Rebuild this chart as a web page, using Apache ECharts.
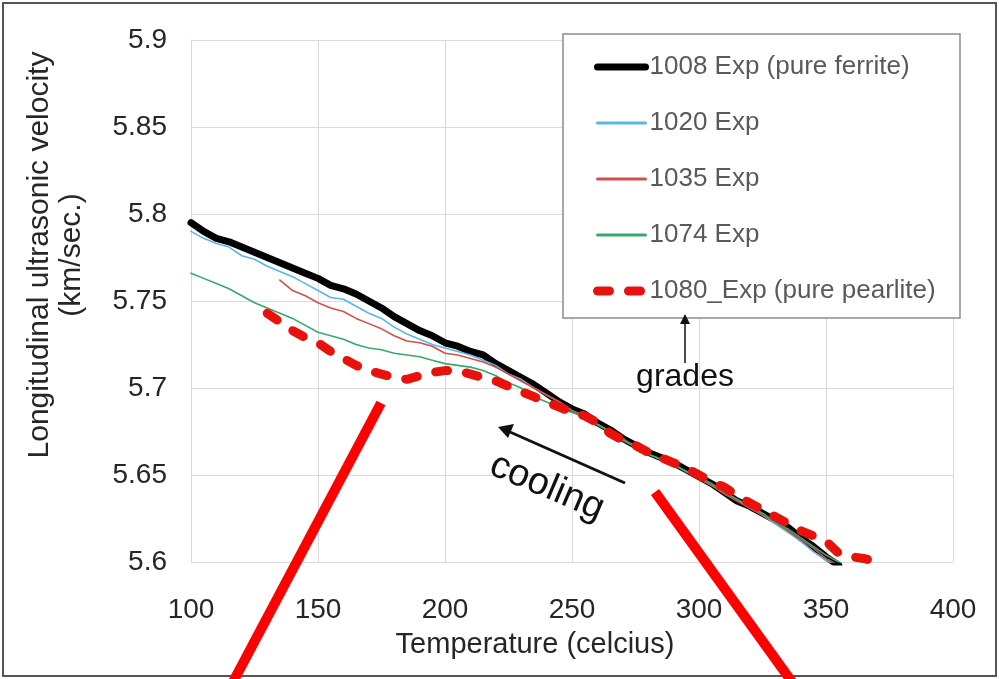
<!DOCTYPE html>
<html>
<head>
<meta charset="utf-8">
<script src="https://cdn.jsdelivr.net/npm/echarts@6/dist/echarts.min.js"></script>
<style>
  html, body { margin: 0; padding: 0; background: #fff; }
  #main { width: 999px; height: 679px; }
</style>
</head>
<body>
<div id="main"></div>
<script>
// temperature (celcius), 5 degree steps
var temps = [100,105,110,115,120,125,130,135,140,145,150,155,160,165,170,175,180,185,190,195,
             200,205,210,215,220,225,230,235,240,245,250,255,260,265,270,275,280,285,290,295,
             300,305,310,315,320,325,330,335,340,345,350,355,360,365,370];

// longitudinal ultrasonic velocity (km/sec.)
var v1008 = [5.795,5.790,5.786,5.784,5.781,5.778,5.775,5.772,5.769,5.766,5.763,5.759,5.757,5.754,5.750,5.746,5.741,5.737,5.733,5.730,
             5.726,5.724,5.721,5.719,5.714,5.710,5.706,5.702,5.697,5.692,5.688,5.685,5.680,5.676,5.671,5.667,5.663,5.660,5.657,5.653,
             5.649,5.645,5.640,5.635,5.632,5.628,5.624,5.620,5.614,5.609,5.603,5.598,null,null,null];
var v1020 = [5.790,5.786,5.783,5.781,5.776,5.774,5.770,5.767,5.764,5.760,5.756,5.752,5.751,5.747,5.743,5.740,5.735,5.731,5.728,5.725,
             5.723,5.721,5.719,5.716,5.713,5.708,5.705,5.700,5.696,5.692,5.687,5.684,5.679,5.675,5.670,5.667,5.662,5.659,5.656,5.652,
             5.648,5.644,5.640,5.636,5.631,5.627,5.622,5.617,5.612,5.606,5.601,5.597,null,null,null];
var v1035 = [null,null,null,null,null,null,null,5.762,5.756,5.753,5.749,5.746,5.744,5.740,5.737,5.734,5.730,5.727,5.726,5.724,
             5.720,5.719,5.717,5.715,5.712,5.708,5.704,5.700,5.696,5.692,5.687,5.684,5.679,5.675,5.671,5.666,5.662,5.659,5.656,5.652,
             5.648,5.644,5.639,5.635,5.631,5.627,5.623,5.618,5.613,5.608,5.602,5.598,null,null,null];
var v1074 = [5.766,5.763,5.760,5.757,5.753,5.749,5.746,5.743,5.740,5.736,5.732,5.730,5.728,5.725,5.723,5.722,5.720,5.719,5.718,5.716,
             5.714,5.713,5.712,5.710,5.707,5.703,5.700,5.695,5.692,5.688,5.686,5.683,5.679,5.675,5.670,5.666,5.662,5.659,5.656,5.652,
             5.649,5.645,5.640,5.636,5.632,5.628,5.623,5.619,5.614,5.609,5.604,5.600,5.597,null,null];
var v1080 = [null,null,null,null,null,null,5.743,5.738,5.733,5.729,5.726,5.721,5.717,5.713,5.710,5.708,5.706,5.705,5.707,5.709,
             5.710,5.710,5.708,5.706,5.704,5.701,5.698,5.695,5.692,5.689,5.686,5.684,5.680,5.674,5.670,5.667,5.663,5.660,5.657,5.654,
             5.650,5.646,5.643,5.638,5.634,5.630,5.626,5.622,5.618,5.615,5.612,5.605,5.603,5.602,5.600];

var seriesNames = ['1008 Exp (pure ferrite)', '1020 Exp', '1035 Exp', '1074 Exp', '1080_Exp (pure pearlite)'];
var xTicks = [100, 400, 50];       // min, max, interval
var yTicks = [5.6, 5.9, 0.05];

function pairs(vals) {
    return temps.map(function (t, i) { return [t, vals[i]]; });
}

var styles = [
    { color: '#000000', width: 7, type: 'solid' },
    { color: '#5bb6e3', width: 1.6, type: 'solid' },
    { color: '#d0504c', width: 1.6, type: 'solid' },
    { color: '#3aa86b', width: 1.6, type: 'solid' },
    { color: '#e8110c', width: 9, type: [12, 19] }
];
var allVals = [v1008, v1020, v1035, v1074, v1080];

var chart = echarts.init(document.getElementById('main'));

var font = '"Liberation Sans", Arial, sans-serif';

var option = {
    backgroundColor: '#ffffff',
    animation: false,
    grid: { left: 191, right: 46, top: 40, bottom: 117 },
    xAxis: {
        type: 'value',
        min: xTicks[0], max: xTicks[1], interval: xTicks[2],
        axisLine: { show: true, lineStyle: { color: '#d9d9d9', width: 1 } },
        axisTick: { show: false },
        splitLine: { show: true, lineStyle: { color: '#d9d9d9', width: 1 } },
        axisLabel: { color: '#262626', fontSize: 28, fontFamily: font, margin: 34 }
    },
    yAxis: {
        type: 'value',
        min: yTicks[0], max: yTicks[1], interval: yTicks[2],
        axisLine: { show: true, lineStyle: { color: '#d9d9d9', width: 1 } },
        axisTick: { show: false },
        splitLine: { show: true, lineStyle: { color: '#d9d9d9', width: 1 } },
        axisLabel: { color: '#262626', fontSize: 28, fontFamily: font, margin: 24 }
    },
    legend: {
        orient: 'vertical',
        left: 588,
        top: 49,
        itemWidth: 48,
        itemHeight: 14,
        itemGap: 30,
        textStyle: { color: '#595959', fontSize: 26, fontFamily: font, padding: [0, 0, 0, -1] },
        data: seriesNames.map(function (n, i) {
            return {
                name: n,
                itemStyle: { color: styles[i].color, opacity: 0, borderWidth: 0 },
                lineStyle: { color: styles[i].color, width: Math.max(styles[i].width, 3), type: styles[i].type, cap: 'round' }
            };
        })
    },
    series: seriesNames.map(function (n, i) {
        return {
            name: n,
            type: 'line',
            data: pairs(allVals[i]),
            showSymbol: false,
            symbol: 'none',
            connectNulls: false,
            clip: true,
            z: 2 + i,
            lineStyle: { color: styles[i].color, width: styles[i].width, type: styles[i].type, cap: 'round', join: 'round' },
            itemStyle: { color: styles[i].color }
        };
    }),
    graphic: [
        // outer frame
        { type: 'rect', shape: { x: 3, y: 3, width: 993, height: 673 }, style: { fill: null, stroke: '#555', lineWidth: 2 }, silent: true },
        // legend box
        { type: 'rect', shape: { x: 563, y: 34, width: 397, height: 284 }, style: { fill: '#fff', stroke: '#8c8c8c', lineWidth: 1.5 }, z: 1, silent: true },
        // y axis title
        { type: 'text', x: 56, y: 255, rotation: Math.PI / 2, style: { text: 'Longitudinal ultrasonic velocity\n(km/sec.)', fill: '#262626', font: '30px ' + font, lineHeight: 32, align: 'center', verticalAlign: 'middle' }, z: 20 },
        // grades arrow
        { type: 'line', shape: { x1: 685, y1: 363, x2: 685, y2: 322 }, style: { stroke: '#111', lineWidth: 1.5 }, z: 20 },
        { type: 'polygon', shape: { points: [[685, 314], [680, 324], [690, 324]] }, style: { fill: '#111' }, z: 20 },
        { type: 'text', x: 685, y: 377, style: { text: 'grades', fill: '#111', font: '32px ' + font, align: 'center', verticalAlign: 'middle' }, z: 20 },
        // cooling arrow
        { type: 'line', shape: { x1: 625, y1: 483, x2: 510, y2: 432 }, style: { stroke: '#111', lineWidth: 3 }, z: 20 },
        { type: 'polygon', shape: { points: [[498, 427], [514, 424], [508, 438]] }, style: { fill: '#111' }, z: 20 },
        { type: 'text', x: 547, y: 487, rotation: -23 * Math.PI / 180, style: { text: 'cooling', fill: '#111', font: '38px ' + font, align: 'center', verticalAlign: 'middle' }, z: 20 },
        // x axis title
        { type: 'text', x: 535, y: 645, style: { text: 'Temperature (celcius)', fill: '#262626', font: '29px ' + font, align: 'center', verticalAlign: 'middle' }, z: 20 },
        // red zoom lines
        { type: 'line', shape: { x1: 381, y1: 403, x2: 233, y2: 682 }, style: { stroke: '#ff0000', lineWidth: 10 }, z: 30 },
        { type: 'line', shape: { x1: 655, y1: 492, x2: 792, y2: 682 }, style: { stroke: '#ff0000', lineWidth: 10 }, z: 30 }
    ]
};

chart.setOption(option);
</script>
</body>
</html>
